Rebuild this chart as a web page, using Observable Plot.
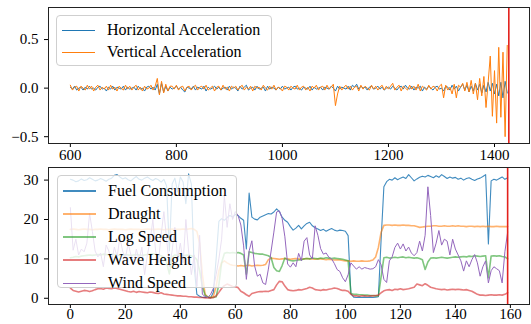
<!DOCTYPE html>
<html>
<head>
<meta charset="utf-8">
<script src="https://cdn.jsdelivr.net/npm/d3@7"></script>
<script src="https://cdn.jsdelivr.net/npm/@observablehq/plot@0.6"></script>
<style>
  body { margin: 0; background: #fff; }
  #wrap { position: relative; width: 531px; height: 324px; font-family: "Liberation Serif", serif; }
  #wrap > svg { position: absolute; left: 0; }
  .legend { position: absolute; background: rgba(255,255,255,0.8); border: 1px solid #cfcfcf; border-radius: 4px; box-sizing: border-box; }
  .row { position: absolute; left: 0; height: 22px; line-height: 22px; font-size: 16px; color: #000; white-space: nowrap; }
  .handle { position: absolute; }
</style>
</head>
<body>
<div id="wrap"></div>
<script>
// ---------- Top panel: accelerations ----------
const accelStart = 600, accelStep = 4;
const accelTicks = [600, 800, 1000, 1200, 1400];
const accelYTicks = [-0.5, 0, 0.5];
const accelXDomain = [558.8, 1466];
const accelYDomain = [-0.57, 0.83];
const accelEndMarker = [1427];
const horizAccel = [
 0.01,-0.01,0.02,-0.02,0.00,0.01,-0.02,0.01,-0.01,0.02,
 -0.01,0.00,-0.02,0.01,0.02,-0.01,0.00,-0.03,0.01,-0.01,
 0.02,-0.02,0.01,0.00,-0.01,0.02,-0.02,0.01,-0.01,0.00,
 0.01,-0.02,0.02,-0.01,0.00,-0.03,0.01,0.02,-0.01,0.01,
 -0.02,0.04,-0.06,0.05,-0.04,0.02,-0.03,0.01,-0.01,0.00,
 0.02,-0.01,0.01,-0.02,-0.04,0.01,0.00,-0.01,0.02,-0.02,
 0.01,0.00,-0.01,0.02,-0.03,0.01,-0.01,0.00,0.02,-0.01,
 0.01,-0.02,0.00,0.01,-0.02,0.02,-0.01,0.01,0.00,-0.03,
 0.02,-0.01,0.01,0.03,-0.02,0.00,0.01,-0.02,0.02,-0.01,
 0.00,0.01,-0.03,0.02,-0.01,0.01,0.00,-0.02,0.01,-0.01,
 0.02,-0.01,0.00,0.01,-0.02,0.01,0.02,-0.01,0.00,-0.02,
 0.01,0.00,-0.01,0.02,-0.02,0.01,-0.01,0.00,0.01,-0.02,
 0.01,0.00,-0.01,0.02,0.00,-0.03,0.02,-0.01,0.01,0.00,
 -0.01,0.02,-0.02,0.03,0.01,0.04,-0.01,0.02,0.00,0.01,
 -0.02,0.01,0.02,-0.01,0.00,0.02,-0.01,0.01,-0.02,0.00,
 0.01,-0.01,0.02,0.00,-0.02,0.01,0.02,-0.01,0.03,0.00,
 -0.01,0.02,-0.02,0.01,0.00,0.02,-0.03,0.01,-0.01,0.02,
 0.00,-0.02,0.01,0.02,-0.01,0.00,-0.03,0.02,0.01,-0.02,
 0.03,-0.01,0.02,-0.03,0.01,0.04,-0.02,0.03,-0.04,0.02,
 -0.03,0.05,-0.02,0.04,-0.05,0.03,-0.04,0.06,-0.03,0.05,
 -0.06,0.04,-0.08,0.06,-0.10,0.07,-0.05
];
const vertAccel = [
 0.03,-0.02,0.01,0.02,-0.03,0.02,0.00,-0.02,0.03,-0.01,
 0.02,-0.03,0.01,0.03,-0.02,0.01,-0.01,0.02,-0.02,0.03,
 -0.01,0.01,-0.03,0.02,0.00,-0.02,0.03,-0.01,0.02,-0.02,
 0.01,0.03,-0.02,0.01,-0.03,0.02,-0.01,0.00,0.03,-0.02,
 0.02,0.10,-0.07,0.07,-0.05,0.04,-0.03,0.02,0.02,-0.01,
 0.03,-0.02,0.01,0.02,-0.03,0.01,0.02,-0.02,0.01,0.03,
 -0.02,0.01,0.02,-0.01,0.03,-0.02,0.00,0.02,-0.03,0.01,
 0.02,-0.02,0.03,-0.01,0.01,-0.03,0.02,0.00,0.02,-0.02,
 0.01,0.03,-0.02,0.01,-0.01,0.02,-0.03,0.02,0.00,0.01,
 -0.02,0.03,0.00,-0.02,0.02,-0.01,0.03,-0.02,0.01,0.00,
 -0.03,0.02,0.01,-0.02,0.02,0.00,-0.01,0.03,-0.02,0.01,
 0.02,-0.02,0.01,-0.03,0.02,0.00,0.03,-0.02,0.01,0.02,
 -0.02,0.03,-0.01,0.01,0.04,-0.18,-0.06,0.02,-0.02,0.01,
 0.03,-0.01,0.02,-0.02,0.01,0.02,-0.03,0.03,-0.01,0.02,
 0.00,-0.02,0.03,-0.01,0.02,-0.02,0.01,0.03,-0.02,0.02,
 -0.01,0.02,0.05,-0.02,0.01,0.03,-0.03,0.02,0.00,-0.02,
 0.03,-0.01,0.02,-0.02,0.04,-0.03,0.02,0.00,-0.02,0.03,
 -0.01,0.02,0.01,-0.03,0.02,0.04,-0.10,0.03,-0.02,0.01,
 -0.06,0.04,-0.10,0.03,0.01,0.05,-0.03,0.06,-0.04,0.08,
 -0.06,0.05,-0.12,0.10,-0.08,0.12,-0.20,0.06,0.33,-0.29,
 0.18,-0.36,0.42,-0.30,0.37,-0.50,0.44
];

// ---------- Bottom panel: ship series ----------
const seriesTicks = [0, 20, 40, 60, 80, 100, 120, 140, 160];
const seriesYTicks = [0, 10, 20, 30];
const seriesXDomain = [-7.95, 166.95];
const seriesYDomain = [-1.58, 33.2];
const seriesEndMarker = [159];
const fuelConsumption = [
 30.2,30.0,29.6,29.8,30.3,29.9,30.1,30.6,30.2,29.8,
 30.0,30.4,30.1,29.7,30.2,30.5,31.2,31.4,30.8,30.3,
 30.6,30.1,29.8,30.4,30.9,30.2,30.0,30.5,30.8,30.3,
 29.9,30.4,30.1,29.5,30.2,28.5,12.0,29.0,30.5,27.0,
 30.8,29.5,24.0,31.6,29.0,8.0,1.0,0.5,0.2,0.3,
 0.2,0.1,1.5,10.0,19.5,20.2,19.8,20.5,21.0,20.6,
 21.3,21.0,20.3,19.8,12.5,26.7,20.6,20.1,19.9,20.6,
 20.9,21.2,21.5,21.4,21.9,22.7,22.0,20.6,19.8,19.3,
 18.2,17.3,17.8,18.5,17.6,18.4,19.0,19.3,18.4,17.9,
 17.6,17.2,17.5,17.0,17.4,17.7,17.3,17.1,17.3,17.2,
 17.0,15.9,1.2,0.3,0.2,0.3,0.2,0.3,0.2,0.3,
 0.2,0.3,0.4,15.0,28.3,29.6,30.2,30.0,30.6,30.1,
 30.5,30.8,30.4,31.4,30.6,29.8,30.3,30.7,31.0,30.8,
 31.2,30.9,30.6,31.1,30.7,31.4,30.9,30.4,30.8,30.5,
 30.7,30.2,30.5,30.0,30.4,30.6,30.2,29.9,30.3,30.5,
 30.9,31.4,13.8,29.8,30.2,30.0,30.4,30.8,30.2,30.6
];
const draught = [
 17.5,17.6,17.5,17.4,17.5,17.6,17.5,17.5,17.4,17.5,
 17.5,17.6,17.5,17.5,17.4,17.5,17.6,17.5,17.5,17.5,
 17.4,17.5,17.6,17.5,17.5,17.5,17.4,17.5,17.6,17.5,
 17.5,17.5,17.6,17.5,17.4,17.5,17.5,17.6,17.5,17.5,
 17.5,17.6,17.5,17.6,17.7,17.5,17.0,14.0,6.0,1.0,
 0.3,0.2,0.5,3.0,7.0,9.0,9.5,9.0,8.6,8.4,
 8.3,8.2,8.3,8.2,8.3,8.4,8.2,8.3,8.4,8.3,
 8.4,8.6,9.8,10.2,10.1,10.0,9.9,10.0,10.1,10.0,
 9.9,10.0,10.1,10.0,9.9,10.0,10.1,10.0,10.0,9.9,
 10.0,10.0,9.9,9.8,9.9,9.8,9.7,9.8,9.7,9.6,
 9.5,9.5,9.4,9.5,9.4,9.4,9.5,9.4,9.4,9.5,
 9.7,10.5,12.9,16.8,18.5,18.6,18.6,18.5,18.6,18.5,
 18.5,18.6,18.5,18.5,18.4,18.4,18.2,18.0,18.1,18.2,
 18.3,18.3,18.4,18.4,18.3,18.3,18.4,18.3,18.3,18.4,
 18.3,18.4,18.3,18.3,18.2,18.3,18.3,18.2,18.3,18.2,
 18.3,18.2,18.3,18.2,18.2,18.3,18.2,18.2,18.2,18.2
];
const logSpeed = [
 10.3,10.4,10.6,10.5,10.7,10.8,10.9,11.0,10.9,11.0,
 11.1,11.0,11.2,11.1,11.0,11.2,11.1,11.0,10.9,11.0,
 11.1,11.0,10.9,11.0,11.1,11.0,10.9,11.0,11.1,11.2,
 11.3,11.2,11.0,10.8,10.5,9.0,6.2,10.5,11.0,10.9,
 11.0,10.8,10.9,11.0,10.8,10.5,9.8,7.0,3.0,0.8,
 0.3,0.2,0.2,0.4,3.5,9.0,11.4,11.6,11.5,11.6,
 11.5,11.6,11.4,11.0,6.1,11.8,11.6,11.4,11.3,11.2,
 11.2,11.0,10.8,10.3,7.8,7.0,6.8,8.3,10.2,9.8,
 9.6,9.5,9.6,9.7,9.8,10.0,10.1,10.0,10.2,10.1,
 10.0,10.2,10.1,10.3,10.2,10.1,10.2,10.1,10.0,9.9,
 9.7,9.5,1.2,1.0,1.0,0.9,0.9,0.8,0.8,0.7,
 0.7,0.6,0.6,5.5,10.3,10.4,10.2,10.3,10.4,10.3,
 10.4,10.5,10.3,10.4,10.3,10.2,10.3,10.1,9.8,7.3,
 9.2,10.2,10.3,10.2,10.3,10.4,10.3,10.2,10.3,10.4,
 10.5,10.4,10.5,10.6,10.5,10.7,10.6,10.8,10.7,10.6,
 10.7,10.8,5.2,10.7,10.8,10.7,10.8,10.6,10.5,10.0
];
const waveHeight = [
 2.6,2.0,1.8,1.6,1.8,2.0,1.9,1.7,1.9,2.2,
 2.4,2.5,2.3,2.6,2.5,2.4,2.6,2.5,2.3,2.1,
 1.9,1.7,1.6,1.8,1.5,1.7,1.6,1.5,1.4,1.6,
 1.5,1.3,1.2,1.4,1.1,1.0,0.9,0.8,0.7,0.6,
 0.6,0.5,0.5,0.4,0.4,0.3,0.3,0.2,0.2,0.1,
 0.1,0.1,0.2,0.6,1.5,2.5,3.2,3.6,3.3,3.0,
 2.9,2.7,1.8,1.4,0.9,0.5,1.2,1.4,1.6,1.7,
 1.7,1.8,1.7,2.0,2.2,3.4,4.3,4.2,3.1,2.2,
 2.0,1.9,2.0,2.2,2.1,2.3,2.5,2.8,2.6,2.2,
 2.1,2.0,2.2,2.1,2.3,2.4,2.6,2.5,2.2,2.0,
 2.0,1.8,1.0,0.6,0.6,0.5,0.6,0.6,0.5,0.6,
 0.6,0.7,0.8,1.4,1.9,2.1,2.2,2.0,2.3,2.2,
 2.4,2.2,2.3,2.4,2.6,2.8,3.6,3.4,3.2,3.7,
 3.3,2.8,2.6,2.4,2.3,2.2,2.3,2.1,2.2,2.3,
 2.2,2.3,2.2,2.1,2.2,2.0,1.8,1.4,1.0,0.8,
 0.8,0.7,0.8,0.9,0.8,0.8,0.9,0.8,1.0,1.4
];
const windSpeed = [
 23.0,12.2,15.0,11.0,12.5,11.8,14.0,21.5,17.0,12.0,
 10.5,11.5,8.0,13.5,12.0,9.0,13.0,10.5,15.5,12.0,
 10.0,14.0,11.0,8.5,12.5,9.5,13.0,6.0,11.0,14.5,
 20.0,12.0,9.0,16.0,22.0,15.0,8.0,12.0,18.0,10.0,
 14.0,9.0,20.0,12.0,6.0,11.0,3.0,16.0,1.0,0.5,
 0.2,1.0,2.5,6.0,10.0,15.0,26.0,18.0,24.0,20.0,
 22.0,21.0,18.6,13.3,4.8,12.0,14.6,8.2,5.6,6.1,
 3.9,3.5,7.4,12.0,16.8,21.9,22.2,20.3,15.6,8.7,
 7.9,9.0,8.0,11.4,9.5,14.5,15.4,11.0,10.0,18.4,
 16.0,12.6,11.2,11.5,10.4,10.0,8.8,7.3,6.8,5.2,
 4.2,6.0,9.0,8.2,7.4,8.0,7.4,7.8,7.6,7.4,
 7.5,8.0,9.8,8.5,4.8,4.0,9.5,10.5,12.9,14.0,
 12.5,13.8,12.0,13.0,11.5,10.8,11.6,14.5,12.0,16.0,
 28.3,21.0,11.6,14.0,17.2,13.5,15.0,14.5,11.0,15.0,
 12.5,11.0,9.5,6.9,9.5,8.0,9.8,11.1,9.0,5.6,
 8.0,9.5,3.9,7.0,8.0,7.5,7.0,3.9,11.8,16.8
];

const accelNames = ["Horizontal Acceleration", "Vertical Acceleration"];
const accelColors = ["#1f77b4", "#ff7f0e"];
const seriesNames = ["Fuel Consumption", "Draught", "Log Speed", "Wave Height", "Wind Speed"];
const seriesColors = ["#1f77b4", "#ff7f0e", "#2ca02c", "#d62728", "#9467bd"];
const seriesOpacity = [0.85, 0.6, 0.6, 0.6, 1];
const seriesWidth = [1.1, 1.6, 1.6, 1.6, 1];
const seriesData = [fuelConsumption, draught, logSpeed, waveHeight, windSpeed];

const wrap = document.getElementById("wrap");
const font = {fontFamily: "Liberation Serif, serif", fontSize: "15px", color: "#000", background: "transparent", overflow: "visible"};

const topChart = Plot.plot({
  width: 531, height: 162, marginLeft: 48, marginRight: 2, marginTop: 7, marginBottom: 19,
  style: font,
  x: {domain: accelXDomain, ticks: accelTicks, tickSize: 4, tickPadding: 2, tickFormat: d => String(d), label: null},
  y: {domain: accelYDomain, ticks: accelYTicks, tickSize: 4, tickPadding: 6, tickFormat: ".1f", label: null},
  marks: [
    Plot.line(horizAccel, {x: (d, k) => accelStart + k * accelStep, y: d => d, stroke: accelColors[0], strokeWidth: 1, clip: true}),
    Plot.line(vertAccel, {x: (d, k) => accelStart + k * accelStep, y: d => d, stroke: accelColors[1], strokeWidth: 1, clip: true}),
    Plot.ruleX(accelEndMarker, {stroke: "#e3211c", strokeWidth: 1.6}),
    Plot.frame({stroke: "#222", strokeWidth: 1})
  ]
});
topChart.style.top = "0px";
wrap.appendChild(topChart);

const bottomChart = Plot.plot({
  width: 531, height: 162, marginLeft: 48, marginRight: 2, marginTop: 5, marginBottom: 20,
  style: font,
  x: {domain: seriesXDomain, ticks: seriesTicks, tickSize: 4, tickPadding: 0, tickFormat: d => String(d), label: null},
  y: {domain: seriesYDomain, ticks: seriesYTicks, tickSize: 4, tickPadding: 6, tickFormat: d => String(d), label: null},
  marks: [
    ...seriesData.map((arr, s) => Plot.line(arr, {x: (d, i) => i, y: d => d, stroke: seriesColors[s], strokeOpacity: seriesOpacity[s], strokeWidth: seriesWidth[s], clip: true})),
    Plot.ruleX(seriesEndMarker, {stroke: "#e3211c", strokeWidth: 1.6}),
    Plot.frame({stroke: "#222", strokeWidth: 1})
  ]
});
bottomChart.style.top = "162px";
wrap.appendChild(bottomChart);

function legend(left, topPx, w, h, names, colors, opac, widths, firstCenter, gap) {
  const box = document.createElement("div");
  box.className = "legend";
  Object.assign(box.style, {left: left + "px", top: topPx + "px", width: w + "px", height: h + "px"});
  names.forEach((name, k) => {
    const c = firstCenter + k * gap;
    const hd = document.createElement("div");
    hd.className = "handle";
    Object.assign(hd.style, {left: "5px", width: "33px", top: (c - widths[k] / 2) + "px", height: widths[k] + "px", background: colors[k], opacity: String(opac[k])});
    box.appendChild(hd);
    const row = document.createElement("div");
    row.className = "row";
    Object.assign(row.style, {left: "50px", top: (c - 11) + "px"});
    row.textContent = name;
    box.appendChild(row);
  });
  wrap.appendChild(box);
}
legend(56, 15, 216, 51, accelNames, accelColors, [1, 1], [1, 1], 14, 22);
legend(57, 175, 180, 113, seriesNames, seriesColors, seriesOpacity, seriesWidth, 15, 23);
</script>
</body>
</html>
